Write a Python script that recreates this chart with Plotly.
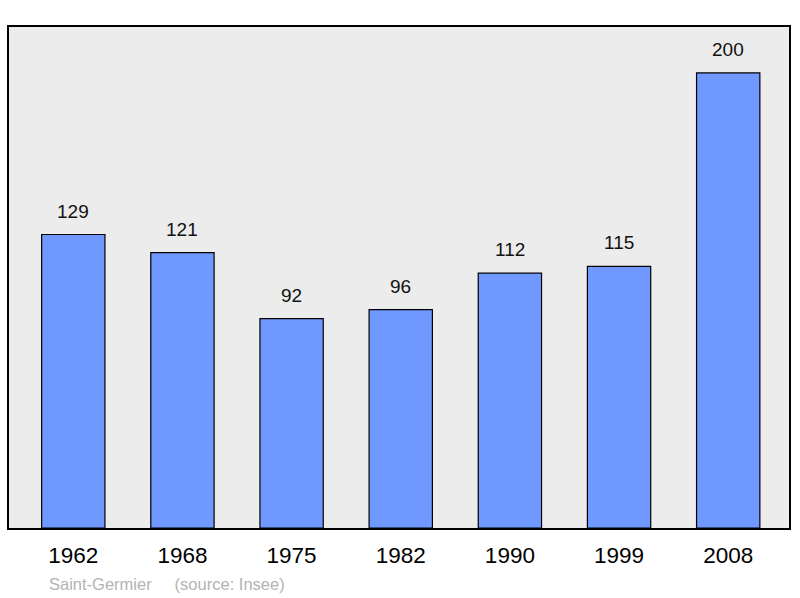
import plotly.graph_objects as go

years = ["1962", "1968", "1975", "1982", "1990", "1999", "2008"]
population = [129, 121, 92, 96, 112, 115, 200]
caption = "Saint-Germier" + "&nbsp;" * 5 + "(source: Insee)"

xs = list(range(len(years)))

fig = go.Figure()
fig.add_trace(go.Bar(
    x=xs, y=population, width=0.58,
    marker=dict(color="#7099ff", line=dict(color="#000000", width=1.2)),
    hoverinfo="skip",
))

for x, v in zip(xs, population):
    fig.add_annotation(x=x, y=v, text=str(v), showarrow=False,
                       yanchor="bottom", yshift=11,
                       font=dict(family="Liberation Sans, Arial", size=19, color="#111111"))

fig.add_annotation(xref="paper", yref="paper", x=(47 - 9) / 782, y=-(584 - 528) / 501,
                   xanchor="left", yanchor="middle", showarrow=False, text=caption,
                   font=dict(family="Liberation Sans, Arial", size=16.5, color="#b3b3b3"))

fig.update_layout(
    width=800, height=598,
    margin=dict(l=9, r=9, t=27, b=70),
    paper_bgcolor="#ffffff", plot_bgcolor="#ececec",
    showlegend=False,
    xaxis=dict(range=[-0.589, 6.557], tickvals=xs, ticktext=years,
               showgrid=False, zeroline=False, showline=True, linecolor="#000000",
               linewidth=2, mirror=True, ticks="", ticklabelstandoff=6,
               tickfont=dict(family="Liberation Sans, Arial", size=22.5, color="#000000")),
    yaxis=dict(range=[0, 220.2], showgrid=False, zeroline=False, showticklabels=False,
               showline=True, linecolor="#000000", linewidth=2, mirror=True, ticks=""),
)

fig.write_html("out.html", config={"displayModeBar": False},
               post_script="document.body.style.margin='0';")
